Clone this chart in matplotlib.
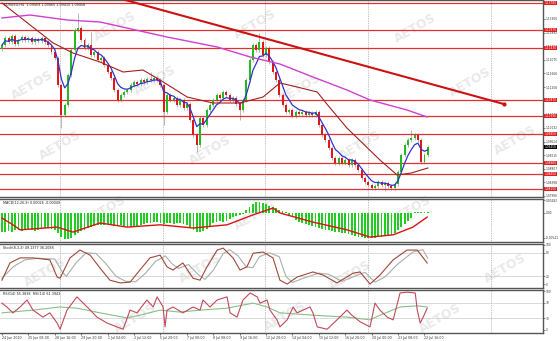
import numpy as np
import pandas as pd
from matplotlib import pyplot as plt
import matplotlib.transforms as mtransforms

# ---- data (EURUSD H4) ----
header_text = "EURUSD,H4  1.09459 1.09465 1.09410 1.09458"
first_open = 1.1240
closes = [1.1252, 1.1273, 1.1261, 1.1279, 1.1255, 1.1267, 1.1276, 1.1267, 1.1273, 1.1261,
          1.1270, 1.1264, 1.1273, 1.1261, 1.1252, 1.1231, 1.1213, 1.1132, 1.1042, 1.1072,
          1.1162, 1.1237, 1.1297, 1.1303, 1.1267, 1.1243, 1.1252, 1.1222, 1.1231, 1.1207,
          1.1213, 1.1192, 1.1171, 1.1153, 1.1117, 1.1087, 1.1102, 1.1111, 1.1117, 1.1132,
          1.1141, 1.1135, 1.1147, 1.1141, 1.1150, 1.1147, 1.1153, 1.1147, 1.1132, 1.1051,
          1.1102, 1.1087, 1.1093, 1.1072, 1.1087, 1.1063, 1.1075, 1.1027, 1.0982, 1.0952,
          1.1033, 1.1012, 1.1057, 1.1072, 1.1087, 1.1102, 1.1093, 1.1111, 1.1102, 1.1087,
          1.1093, 1.1075, 1.1057, 1.1087, 1.1147, 1.1207, 1.1252, 1.1237, 1.1261, 1.1222,
          1.1243, 1.1201, 1.1171, 1.1147, 1.1102, 1.1072, 1.1051, 1.1057, 1.1039, 1.1051,
          1.1045, 1.1051, 1.1042, 1.1048, 1.1042, 1.1051, 1.1012, 1.0982, 1.0967, 1.0943,
          1.0913, 1.0898, 1.0913, 1.0898, 1.0907, 1.0892, 1.0907, 1.0892, 1.0877, 1.0853,
          1.0841, 1.0832, 1.0823, 1.0829, 1.0841, 1.0832, 1.0838, 1.0829, 1.0823, 1.0835,
          1.0871, 1.0922, 1.0952, 1.0967, 1.0973, 1.0982, 1.0967, 1.0901, 1.0922, 1.0946]
long_highs = {23: 1.1348, 78: 1.1288, 124: 1.0997, 27: 1.1290, 45: 1.1170}
long_lows = {18: 1.1003, 49: 1.1012, 59: 1.0931, 72: 1.1027, 116: 1.0814}

brown_idx = [0, 15.5, 21.5, 29.7, 36.7, 42.7, 47.9, 56.1, 63.9, 72.1, 79.1, 84.2, 89.4,
             95.5, 98.5, 104.5, 114.5, 119.7, 124, 129]
brown_val = [1.1378, 1.1258, 1.1228, 1.1201, 1.1171, 1.1177, 1.1147, 1.1096, 1.1078, 1.1078,
             1.1096, 1.1138, 1.1126, 1.1111, 1.1074, 1.1003, 1.0907, 1.0862, 1.0868, 1.0883]
magenta_idx = [0, 8.5, 19.7, 29.7, 50, 65.2, 75.2, 84.2, 94.2, 104.5, 111.5, 122.7, 128.8]
magenta_val = [1.1333, 1.1342, 1.1327, 1.1321, 1.1276, 1.1246, 1.1216, 1.1195, 1.1156,
               1.1117, 1.1087, 1.1057, 1.1036]
trend_idx = [30, 152]
trend_val = [1.1407, 1.1075]
levels = [1.1378, 1.1297, 1.1243, 1.1087, 1.1039, 1.0985, 1.0898, 1.0865, 1.0820]
last_price = 1.09458
session_idx = [17.6, 48.8, 79.7, 110.9, 148.2]

macd_hist = [-0.0042, -0.0042, -0.0040, -0.0042,
             -0.0037, -0.0037, -0.0040, -0.0037, -0.0035, -0.0037, -0.0040, -0.0037, -0.0035,
             -0.0033, -0.0033, -0.0035, -0.0037,
             -0.0044, -0.0053, -0.0057, -0.0057, -0.0055,
             -0.0048, -0.0044, -0.0040, -0.0037, -0.0033, -0.0031, -0.0029, -0.0026,
             -0.0026, -0.0026, -0.0024, -0.0026, -0.0029, -0.0026, -0.0026, -0.0029,
             -0.0031, -0.0031, -0.0029, -0.0029, -0.0026, -0.0024, -0.0022, -0.0022, -0.0020, -0.0020,
             -0.0022, -0.0024, -0.0022, -0.0022, -0.0024, -0.0022, -0.0022, -0.0024, -0.0026, -0.0031,
             -0.0037, -0.0042, -0.0042, -0.0040, -0.0035, -0.0029,
             -0.0022, -0.0020, -0.0018, -0.0020, -0.0018, -0.0013,
             -0.0009, -0.0007, -0.0004, -0.0002,
             0.0007, 0.0013, 0.0020, 0.0024, 0.0024, 0.0022, 0.0020,
             0.0015, 0.0013, 0.0011, 0.0007, 0.0004, 0.0002,
             -0.0004, -0.0009, -0.0015, -0.0020, -0.0022, -0.0024, -0.0026, -0.0029, -0.0031,
             -0.0033, -0.0035, -0.0037, -0.0037, -0.0040, -0.0042, -0.0042, -0.0044, -0.0044,
             -0.0046, -0.0048, -0.0051, -0.0053, -0.0053, -0.0055, -0.0055, -0.0055,
             -0.0055, -0.0053, -0.0053, -0.0051, -0.0048, -0.0048, -0.0044,
             -0.0037, -0.0031, -0.0024, -0.0018, -0.0011,
             0.0002, 0.0002, 0.0002, 0.0002, 0.0002]
macd_sig_idx = [0, 3.3, 5.5, 16.7, 21.5, 29.7, 37.9, 47.9, 57.9, 68.2, 76.1, 82.1, 84.2,
                94.2, 104.5, 111.5, 118.5, 124.5, 128.8]
macd_sig_val = [-0.0011, -0.0026, -0.0037, -0.0031, -0.0042, -0.0022, -0.0031, -0.0026,
                -0.0033, -0.0026, -0.0004, 0.0011, 0.0, -0.0020, -0.0037, -0.0053, -0.0048,
                -0.0031, -0.0009]

stoch_idx = [0, 2.4, 5.5, 9.4, 14.5, 16.7, 17.6, 20.6, 23.6, 26.7, 29.7, 32.7, 35.8, 38.8,
             41.8, 44.8, 47.9, 50, 51.8, 54.8, 57.9, 60, 62.1, 65.2, 67, 70, 72.1, 74.2, 76.1,
             79.1, 82.1, 84.2, 86.4, 89.4, 94.2, 97.3, 101.5, 106.4, 108.5, 111.5, 114.5,
             118.5, 122.7, 125.8, 128.8]
stoch_val = [10, 54, 67, 67, 62, 18, 15, 67, 87, 74, 41, 10, 3, 5, 36, 67, 74, 44, 36, 54,
             15, 10, 44, 87, 92, 67, 36, 44, 79, 82, 67, 10, 0, 18, 31, 23, 3, 28, 31, 0, 23,
             62, 87, 87, 54]
stoch_sig_idx = [0, 3.5, 7, 11, 16, 18.5, 19.5, 22.5, 25.5, 28.5, 31.5, 34.5, 37.5, 40.5,
                 43.5, 46.5, 49.5, 51.5, 53.5, 56.5, 59.5, 61.5, 64, 67, 69, 71.5, 74, 76, 78,
                 81, 84, 86, 88, 91, 96, 99, 103, 108, 110, 113, 116, 120, 124.5, 127.5, 129]
stoch_sig_val = [15, 45, 62, 66, 64, 28, 20, 55, 80, 78, 52, 20, 7, 6, 28, 58, 72, 52, 40,
                 50, 24, 12, 35, 78, 88, 72, 44, 42, 70, 80, 70, 20, 4, 14, 28, 25, 7, 24, 30,
                 5, 18, 52, 82, 88, 66]

rsi_idx = [0, 1.5, 3.3, 5.5, 7.6, 9.4, 12.4, 14.5, 16.7, 17.6, 19.7, 22.7, 25.8, 28.8, 31.8,
           34.8, 36.7, 38.8, 40.9, 43.9, 45.8, 47, 48.8, 49.4, 50, 51.8, 54.8, 57.9, 60, 60.9,
           63, 65.2, 68.2, 69.1, 71.2, 73, 75.2, 77.3, 78.2, 80.3, 81.2, 83.3, 84.2, 86.4,
           88.2, 89.4, 91.2, 93.3, 94.2, 95.5, 98.5, 101.5, 104.5, 106, 108.5, 111.5, 113,
           114.5, 116.7, 118.5, 120.6, 122.7, 125.2, 125.8, 126.7, 127.6, 128.8]
rsi_val = [69, 59, 44, 59, 77, 51, 33, 44, 18, 2, 51, 85, 59, 33, 18, 8, 2, 51, 44, 77, 59,
           85, 59, 8, 51, 59, 44, 59, 51, 77, 59, 77, 85, 44, 33, 77, 95, 85, 69, 77, 51, 26,
           8, 26, 59, 44, 51, 59, 44, 8, 2, 26, 51, 38, 21, 8, 69, 51, 33, 26, 95, 97, 95, 51,
           18, 33, 56]
rsi_ma_idx = [0, 9.4, 17.6, 22.7, 29.7, 37.9, 41.8, 47.9, 53.9, 60, 68.2, 76.1, 80.3, 84.2,
              94.2, 104.5, 111.5, 114.5, 120.6, 125.8, 128.8]
rsi_ma_val = [44, 51, 59, 56, 44, 31, 38, 51, 46, 51, 56, 69, 59, 44, 38, 33, 26, 38, 59, 62, 59]

date_labels = ["24 Jun 2010", "25 Jun 08:00", "28 Jun 16:00", "29 Jun 20:00", "1 Jul 04:00",
               "2 Jul 12:00", "5 Jul 20:00", "7 Jul 00:00", "8 Jul 08:00", "9 Jul 16:00",
               "12 Jul 20:00", "14 Jul 04:00", "15 Jul 12:00", "16 Jul 20:00", "20 Jul 00:00",
               "21 Jul 08:00", "22 Jul 16:00"]

# ---- candles ----
df = pd.DataFrame({'close': closes})
df['open'] = df['close'].shift(1).fillna(first_open)
body_hi = df[['open', 'close']].max(axis=1)
body_lo = df[['open', 'close']].min(axis=1)
df['high'] = body_hi + 0.0006
df['low'] = body_lo - 0.0006
for k, v in long_highs.items():
    df.loc[k, 'high'] = v
for k, v in long_lows.items():
    df.loc[k, 'low'] = v
df['ema'] = df['close'].ewm(span=5).mean()
idx = np.arange(len(df))
up = df['close'] >= df['open']

W, H = 560, 341
fig = plt.figure(figsize=(W / 100, H / 100), dpi=100)
fig.patch.set_facecolor('white')
pw = 543 / W
LBL = 2.1  # tiny axis font, as on the screenshot

def pane(top, bottom):
    return fig.add_axes([0, (H - bottom) / H, pw, (bottom - top) / H])

ax = pane(0, 197)
ax_macd = pane(199, 242)
ax_st = pane(244, 288)
ax_rsi = pane(290, 333)
axes = [ax, ax_macd, ax_st, ax_rsi]

# watermark
marks = [(115, 26), (255, 24), (415, 28), (32, 85), (155, 80), (300, 88), (470, 82),
         (60, 145), (210, 150), (360, 145), (515, 140), (105, 210), (255, 215), (410, 210),
         (45, 272), (200, 268), (350, 275), (505, 268), (135, 318), (285, 316), (440, 318)]
for mx, my in marks:
    fig.text(mx / W, 1 - my / H, "AETOS", fontsize=9, fontweight='bold', color='#e9e9e9',
             rotation=30, ha='center', va='center', zorder=-1)

for a in axes:
    a.set_facecolor('none')
    a.set_xlim(-0.6, 163.9)
    for s in a.spines.values():
        s.set_color('#555555')
        s.set_linewidth(1.0)
    a.spines['left'].set_visible(False)
    a.yaxis.tick_right()
    a.tick_params(axis='y', labelsize=LBL, length=1.2, width=0.4, pad=0.6, colors='#333333')
    a.tick_params(axis='x', length=0)
    a.set_xticks([])
    for s in session_idx:
        a.axvline(s, color='#8a8a8a', ls=(0, (1, 1.5)), lw=0.5, zorder=1)

# main price pane
ax.set_ylim(1.0796, 1.1387)
ax.vlines(idx, df['low'], df['high'], color='#9a9a9a', lw=0.5, zorder=2)
ax.bar(idx[up], (df['close'] - df['open'])[up].abs(), bottom=body_lo[up], width=0.6,
       color='#22bb22', zorder=3)
ax.bar(idx[~up], (df['close'] - df['open'])[~up].abs(), bottom=body_lo[~up], width=0.6,
       color='#e01818', zorder=3)
ax.plot(idx, df['ema'], color='#3333cc', lw=0.9, zorder=4)
ax.plot(brown_idx, brown_val, color='#a02020', lw=0.8, zorder=4)
ax.plot(magenta_idx, magenta_val, color='#d040d0', lw=1.0, zorder=4)
for lv in levels:
    ax.axhline(lv, color='#e03030', lw=0.9, zorder=2)
ax.plot(trend_idx, trend_val, color='#cc1111', lw=1.5, zorder=5)
ax.plot(trend_idx[-1:], trend_val[-1:], 'o', color='#cc1111', ms=2, zorder=5)
grey_ticks = np.linspace(1.0799, 1.1330, 14)
ax.set_yticks(grey_ticks)
ax.set_yticklabels(['%.5f' % t for t in grey_ticks])
tr = mtransforms.blended_transform_factory(ax.transAxes, ax.transData)
for lv in levels:
    ax.text(1.003, lv, '%.5f' % lv, transform=tr, fontsize=LBL, color='white', va='center',
            ha='left', clip_on=False,
            bbox=dict(boxstyle='square,pad=0.12', fc='#e02020', ec='none'))
ax.text(1.003, last_price, '%.5f' % last_price, transform=tr, fontsize=LBL, color='white',
        va='center', ha='left', clip_on=False,
        bbox=dict(boxstyle='square,pad=0.12', fc='black', ec='none'))
ax.text(0.008, 0.985, header_text, transform=ax.transAxes, fontsize=2.4, color='#222222',
        va='top', ha='left')

# MACD
ax_macd.set_ylim(-0.00638, 0.00308)
ax_macd.bar(idx, macd_hist, width=0.55, color='#22cc22', zorder=2)
ax_macd.plot(macd_sig_idx, macd_sig_val, color='#dd1111', lw=1.0, zorder=3)
ax_macd.set_yticks([0.00282, 0.0, -0.00541])
ax_macd.set_yticklabels(['0.00282', '0.00', '-0.00541'])
ax_macd.text(0.005, 0.95, "MACD(12,26,9) 0.00026 -0.00049", transform=ax_macd.transAxes,
             fontsize=2.4, color='#222222', va='top', ha='left')

# Stochastic
ax_st.set_ylim(-10, 102.5)
for lv in (80, 20):
    ax_st.axhline(lv, color='#cccccc', lw=0.5, zorder=1)
ax_st.plot(stoch_sig_idx, stoch_sig_val, color='#a8b0a8', lw=0.8, zorder=2)
ax_st.plot(stoch_idx, stoch_val, color='#a04838', lw=0.8, zorder=3)
ax_st.set_yticks([100, 80, 20, 0])
ax_st.text(0.005, 0.95, "Stoch(8,3,3) 49.1377 36.2088", transform=ax_st.transAxes,
           fontsize=2.4, color='#222222', va='top', ha='left')

# RSI
ax_rsi.set_ylim(-7.7, 102.6)
for lv in (70, 30):
    ax_rsi.axhline(lv, color='#cccccc', lw=0.5, zorder=1)
ax_rsi.plot(rsi_ma_idx, rsi_ma_val, color='#88c088', lw=0.8, zorder=2)
ax_rsi.plot(rsi_idx, rsi_val, color='#c04a5a', lw=0.8, zorder=3)
ax_rsi.set_yticks([100, 70, 30, 0])
ax_rsi.text(0.005, 0.95, "RSI(14) 55.3838  RSI(14) 61.3943", transform=ax_rsi.transAxes,
            fontsize=2.4, color='#222222', va='top', ha='left')
ax_rsi.set_xticks(list(range(0, 8 * len(date_labels), 8)))
ax_rsi.set_xticklabels(date_labels, fontsize=2.3, color='#333333', ha='left')
ax_rsi.tick_params(axis='x', length=1.5, width=0.4, pad=0.8)

fig.savefig('out.png', dpi=100)
